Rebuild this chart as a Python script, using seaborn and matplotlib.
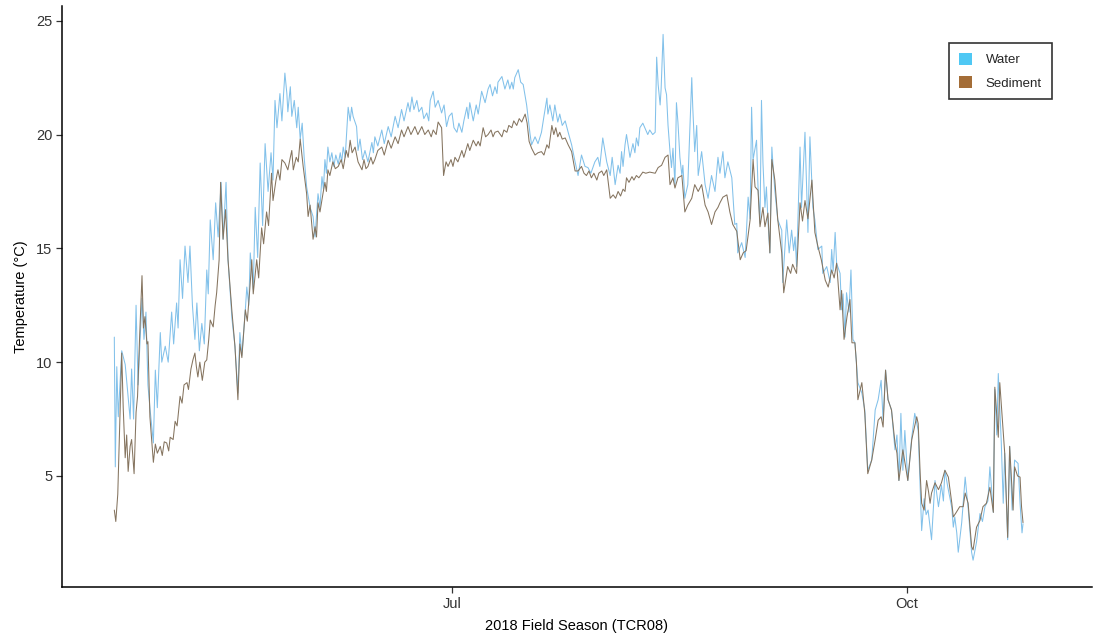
import numpy as np
import pandas as pd
import matplotlib
matplotlib.use("Agg")
import matplotlib.pyplot as plt
from matplotlib.patches import Patch
import seaborn as sns

# ---- data: day-of-year 2018 (decimal) and temperature (°C) ----
water_doy = [113.7, 113.9, 114.2, 114.5, 115.2, 115.9, 116.9, 117.2, 117.6, 118.1, 118.5, 119.3, 119.7, 120.1,
             120.5, 120.9, 121.6, 122.0, 122.4, 123.0, 123.3, 124.0, 124.6, 125.3, 125.7, 126.3, 126.6, 127.0,
             127.5, 128.0, 128.6, 129.0, 129.5, 130.0, 130.4, 130.9, 131.4, 131.9, 132.4, 132.7, 133.1, 133.7,
             134.2, 134.7, 135.3, 135.7, 136.3, 136.7, 137.5, 138.1, 138.7, 139.1, 139.5, 140.2, 140.5, 140.9,
             141.2, 141.8, 142.2, 142.7, 143.2, 143.7, 144.2, 144.8, 145.4, 145.8, 146.2, 146.6, 147.2, 147.6,
             148.2, 148.6, 148.8, 149.3, 149.6, 150.1, 150.6, 150.9, 151.3, 151.7, 152.1, 152.6, 153.3, 153.9,
             154.3, 154.9, 155.3, 155.7, 156.0, 156.3, 156.6, 156.9, 157.3, 157.7, 158.1, 158.5, 159.0, 159.4,
             159.7, 160.0, 160.4, 161.0, 161.4, 161.7, 162.0, 162.7, 163.0, 163.4, 163.9, 164.4, 165.0, 165.8,
             166.1, 166.4, 167.0, 167.8, 168.3, 169.1, 169.7, 170.5, 171.1, 171.8, 172.3, 173.1, 173.5, 173.9,
             174.3, 174.9, 175.3, 175.9, 176.3, 176.9, 177.3, 177.6, 178.2, 178.6, 179.2, 179.9, 180.4, 180.9,
             181.4, 182.0, 182.4, 183.0, 183.4, 184.0, 184.4, 185.0, 185.3, 185.6, 186.3, 186.9, 187.3, 188.0,
             188.7, 189.3, 189.7, 190.2, 190.7, 191.1, 191.3, 192.1, 192.7, 193.3, 193.7, 194.1, 194.4, 194.7,
             195.4, 195.9, 196.4, 197.1, 197.8, 198.1, 198.8, 199.4, 200.1, 200.6, 201.2, 201.4, 201.8, 202.4,
             202.8, 203.4, 203.8, 204.3, 204.9, 205.5, 206.2, 206.9, 207.5, 208.2, 208.9, 209.5, 210.1, 210.9,
             211.5, 211.9, 212.5, 213.3, 214.0, 214.4, 215.0, 215.6, 216.0, 216.3, 216.6, 217.0, 217.3, 218.0,
             218.6, 219.0, 219.3, 219.7, 220.0, 220.6, 221.4, 221.6, 222.0, 222.6, 223.1, 223.4, 223.7, 224.1,
             224.3, 224.7, 225.1, 225.4, 225.7, 226.1, 226.4, 226.7, 227.1, 227.4, 227.7, 228.1, 228.5, 228.7,
             229.1, 229.7, 230.5, 230.7, 231.1, 231.5, 231.8, 232.5, 233.2, 233.8, 234.5, 235.2, 235.8, 236.2,
             236.8, 237.2, 237.8, 238.6, 239.2, 239.6, 239.8, 240.6, 241.3, 241.9, 242.3, 242.6, 242.9, 243.6,
             243.9, 244.3, 244.6, 244.9, 245.3, 245.6, 245.9, 246.3, 246.7, 246.9, 247.3, 247.9, 248.7, 248.9,
             249.7, 250.2, 250.7, 251.1, 251.4, 251.7, 252.4, 252.7, 253.4, 254.0, 254.4, 255.0, 255.4, 256.0,
             256.8, 257.0, 257.8, 258.5, 258.8, 259.1, 259.5, 259.8, 260.5, 260.8, 261.1, 261.5, 261.8, 262.3,
             262.7, 263.1, 263.5, 264.1, 264.9, 265.5, 266.1, 266.9, 267.6, 268.2, 268.8, 269.2, 269.7, 270.2,
             270.9, 271.6, 272.0, 272.4, 272.8, 273.2, 273.6, 274.2, 275.0, 275.6, 276.3, 276.7, 277.0, 277.5,
             277.9, 278.3, 279.0, 279.7, 280.4, 281.0, 281.4, 281.7, 282.3, 283.1, 283.4, 283.7, 284.1, 284.4,
             285.1, 285.8, 286.4, 287.1, 287.4, 288.1, 288.8, 289.3, 289.8, 290.4, 290.8, 291.5, 291.8, 292.2,
             292.5, 293.1, 293.5, 293.8, 294.4, 294.8, 295.3, 295.8, 296.5, 296.9, 297.3, 297.5]
water_temp = [11.1, 5.4, 9.8, 7.6, 10.5, 9.9, 7.5, 9.7, 7.5, 12.5, 9.0, 12.8, 11.0, 12.2,
              9.0, 8.0, 6.45, 9.65, 8.0, 11.3, 10.0, 10.7, 10.0, 12.2, 10.8, 12.6, 11.5, 14.5,
              12.8, 15.1, 13.5, 15.1, 12.5, 11.0, 12.6, 10.5, 11.7, 10.8, 14.05, 13.0, 16.25, 14.5,
              17.0, 15.5, 17.9, 15.4, 17.9, 14.5, 11.9, 10.7, 8.65, 11.3, 10.3, 12.3, 13.3, 12.5,
              14.8, 13.2, 16.8, 14.6, 18.75, 16.0, 19.6, 17.5, 19.2, 18.0, 21.5, 20.3, 21.8, 20.6,
              22.7, 21.8, 21.0, 22.1, 20.8, 21.5, 20.3, 21.2, 19.8, 20.5, 19.0, 17.7, 16.8, 16.4,
              15.5, 17.4, 16.8, 18.15, 17.6, 18.9, 18.3, 19.45, 18.8, 19.2, 18.6, 19.1, 18.7, 19.2,
              18.8, 19.45, 19.0, 21.2, 20.6, 21.2, 20.8, 20.35, 19.3, 19.8, 18.9, 19.3, 18.8, 19.65,
              19.2, 19.9, 19.5, 20.2, 19.6, 20.35, 19.9, 20.8, 20.3, 21.1, 20.6, 21.4, 21.0, 21.65,
              21.1, 21.5, 21.0, 21.2, 20.7, 20.95, 20.6, 21.5, 21.9, 21.2, 21.5, 20.95, 21.3, 20.35,
              20.8, 20.95, 20.3, 20.1, 20.5, 20.1, 20.6, 21.2, 20.7, 21.4, 20.6, 21.3, 20.9, 21.9,
              21.4, 22.0, 22.2, 21.7, 22.1, 21.8, 22.3, 22.55, 22.0, 22.4, 22.0, 22.3, 22.0, 22.5,
              22.85, 22.3, 22.2, 21.3, 20.0, 19.55, 19.9, 19.6, 20.1, 20.8, 21.6, 20.9, 21.3, 20.6,
              21.3, 20.55, 20.9, 20.4, 20.6, 20.1, 19.55, 18.8, 18.2, 19.1, 18.6, 18.55, 18.3, 18.8,
              19.0, 18.6, 19.85, 18.8, 18.2, 19.0, 17.8, 18.65, 18.3, 19.25, 18.6, 19.55, 20.0, 19.0,
              19.6, 19.2, 19.85, 19.5, 20.3, 20.5, 20.1, 20.0, 20.2, 20.0, 20.1, 23.4, 22.2, 21.3,
              22.0, 24.4, 22.05, 21.75, 20.4, 19.25, 18.55, 19.4, 17.8, 21.4, 20.55, 19.0, 18.2, 18.65,
              17.2, 17.8, 22.5, 21.2, 19.25, 20.4, 18.2, 19.25, 17.8, 17.2, 18.2, 17.5, 19.0, 18.3,
              19.25, 18.1, 18.8, 18.1, 16.05, 16.1, 14.8, 15.25, 14.6, 17.25, 16.3, 21.2, 18.9, 19.75,
              17.7, 16.1, 21.5, 18.75, 16.8, 17.7, 16.25, 14.8, 19.45, 18.75, 17.55, 16.25, 15.8, 13.5,
              16.25, 14.8, 15.8, 14.9, 15.5, 14.2, 19.45, 16.8, 20.1, 15.7, 19.9, 16.8, 16.25, 14.95,
              15.1, 13.9, 14.2, 13.5, 14.95, 14.0, 15.7, 14.35, 13.9, 12.3, 13.0, 11.1, 13.05, 12.2,
              14.05, 11.0, 10.85, 9.1, 8.65, 7.9, 5.25, 5.7, 7.9, 8.35, 9.2, 7.45, 9.65, 8.35,
              7.9, 6.15, 6.8, 4.8, 7.75, 5.25, 7.0, 4.8, 6.7, 7.75, 7.0, 4.5, 2.6, 4.0,
              3.3, 3.5, 2.2, 4.8, 3.65, 4.6, 3.9, 5.25, 4.5, 3.6, 2.75, 3.2, 2.5, 1.65,
              2.95, 4.95, 3.6, 1.65, 1.3, 2.1, 3.35, 3.0, 3.65, 3.9, 5.4, 3.4, 8.8, 6.8,
              9.5, 6.5, 3.8, 6.0, 2.2, 6.3, 3.5, 5.7, 5.55, 3.8, 2.5, 2.9]

sediment_doy = [113.7, 114.0, 114.4, 114.7, 115.2, 115.5, 115.9, 116.2, 116.5, 116.9, 117.2, 117.7, 118.1, 118.4,
                118.8, 119.3, 119.6, 119.9, 120.3, 120.5, 120.9, 121.6, 122.0, 122.4, 123.0, 123.4, 123.8, 124.3,
                124.7, 125.0, 125.6, 126.0, 126.4, 127.0, 127.4, 127.8, 128.4, 128.7, 129.2, 129.6, 130.0, 130.3,
                130.6, 131.0, 131.5, 132.0, 132.4, 132.8, 133.1, 133.7, 134.1, 134.4, 134.9, 135.2, 135.7, 136.2,
                136.7, 137.5, 138.1, 138.7, 139.1, 139.5, 140.2, 140.6, 141.2, 141.5, 141.8, 142.5, 142.9, 143.5,
                143.9, 144.5, 144.9, 145.5, 145.8, 146.4, 146.8, 147.2, 147.6, 148.2, 148.8, 149.3, 149.6, 149.9,
                150.5, 150.9, 151.3, 151.9, 152.6, 152.9, 153.3, 153.9, 154.3, 154.6, 154.9, 155.3, 155.9, 156.3,
                156.6, 156.9, 157.3, 157.9, 158.4, 159.0, 159.6, 160.0, 160.6, 161.0, 161.4, 161.8, 162.4, 163.0,
                163.8, 164.2, 164.6, 165.0, 165.6, 166.0, 166.4, 167.0, 167.8, 168.3, 169.1, 169.7, 170.5, 171.1,
                171.8, 172.3, 173.1, 173.7, 174.5, 175.1, 175.9, 176.5, 177.2, 177.8, 178.2, 178.8, 179.2, 179.9,
                180.3, 180.8, 181.2, 181.8, 182.2, 182.6, 183.2, 184.0, 184.4, 185.2, 185.6, 186.3, 186.9, 187.3,
                187.7, 188.3, 188.8, 189.3, 189.9, 190.3, 190.7, 191.3, 192.1, 192.5, 193.1, 193.5, 194.1, 194.5,
                195.1, 195.6, 196.1, 196.8, 197.2, 197.6, 198.1, 198.8, 199.4, 200.1, 200.6, 201.2, 201.6, 202.2,
                202.6, 203.0, 203.4, 203.8, 204.3, 204.9, 205.5, 206.2, 206.9, 207.5, 208.2, 208.7, 209.2, 209.7,
                210.2, 210.7, 211.3, 211.7, 212.3, 212.7, 213.3, 214.0, 214.6, 215.1, 215.6, 216.1, 216.6, 217.0,
                217.3, 217.8, 218.4, 218.8, 219.3, 219.8, 220.6, 221.2, 222.0, 223.1, 223.7, 224.4, 225.1, 225.7,
                226.1, 226.7, 227.1, 227.7, 228.5, 229.1, 229.7, 230.5, 231.1, 231.8, 232.5, 233.2, 233.8, 234.5,
                235.2, 235.8, 236.2, 236.8, 237.6, 238.2, 238.8, 239.6, 240.3, 240.9, 241.5, 242.3, 242.9, 243.3,
                243.9, 244.3, 244.9, 245.3, 245.9, 246.3, 246.7, 247.3, 247.9, 248.7, 249.1, 249.9, 250.5, 250.9,
                251.7, 252.4, 252.9, 253.4, 254.0, 254.8, 255.4, 256.0, 256.7, 257.5, 258.1, 258.8, 259.3, 259.8,
                260.5, 260.8, 261.3, 261.9, 262.5, 262.9, 263.5, 263.8, 264.1, 264.9, 265.5, 266.1, 266.9, 267.6,
                268.2, 268.8, 269.2, 269.7, 270.2, 270.9, 271.6, 272.0, 272.4, 273.2, 273.6, 274.2, 275.0, 276.0,
                276.3, 276.7, 277.0, 277.5, 278.0, 278.4, 278.7, 279.0, 279.7, 280.4, 281.0, 281.7, 282.4, 283.1,
                283.4, 284.0, 284.7, 285.4, 285.8, 286.4, 287.1, 287.4, 288.1, 288.8, 289.4, 290.1, 290.8, 291.5,
                291.8, 292.5, 292.8, 293.8, 294.4, 294.8, 295.5, 295.8, 296.4, 296.9, 297.2, 297.5]
sediment_temp = [3.5, 3.0, 4.2, 6.5, 10.4, 8.0, 5.8, 6.8, 5.2, 6.3, 6.6, 5.1, 7.8, 8.5,
                 11.0, 13.8, 11.5, 12.0, 10.8, 10.9, 7.6, 5.6, 6.4, 6.0, 6.3, 5.9, 6.5, 6.45,
                 6.1, 6.7, 6.6, 7.4, 7.2, 8.5, 8.2, 9.0, 9.1, 8.8, 9.7, 10.1, 10.4, 9.8,
                 9.35, 10.0, 9.2, 10.0, 10.1, 11.0, 11.85, 11.55, 12.5, 13.05, 14.5, 17.9, 15.4, 16.7,
                 14.5, 12.2, 10.7, 8.35, 10.8, 10.2, 12.3, 11.8, 13.5, 14.5, 13.0, 14.5, 13.7, 15.9,
                 15.2, 16.6, 16.0, 18.3, 17.1, 18.0, 18.45, 18.0, 18.9, 18.75, 18.45, 19.0, 19.3, 18.45,
                 19.0, 18.8, 19.8, 18.6, 17.4, 16.4, 16.9, 15.4, 15.95, 15.5, 17.0, 16.6, 17.4, 17.9,
                 17.5, 18.45, 18.2, 18.8, 18.5, 18.6, 18.9, 18.5, 19.3, 19.0, 19.75, 19.2, 19.45, 18.8,
                 18.45, 18.9, 18.5, 18.6, 19.0, 18.7, 18.9, 19.3, 19.45, 19.1, 19.75, 19.4, 19.9, 19.6,
                 20.2, 19.9, 20.35, 20.0, 20.35, 20.0, 20.35, 20.0, 20.2, 19.9, 20.2, 20.0, 20.55, 20.3,
                 18.2, 18.8, 18.6, 18.9, 18.6, 19.0, 18.8, 19.3, 19.0, 19.6, 19.3, 19.75, 19.5, 19.7,
                 19.5, 20.3, 19.9, 20.0, 20.2, 19.9, 20.1, 20.15, 19.9, 20.2, 20.1, 20.4, 20.3, 20.6,
                 20.4, 20.7, 20.55, 20.9, 20.5, 19.7, 19.4, 19.1, 19.2, 19.25, 19.1, 19.55, 19.4, 20.4,
                 20.0, 20.3, 19.9, 20.1, 19.8, 19.85, 19.55, 19.25, 18.4, 18.4, 18.6, 18.3, 18.2, 18.4,
                 18.1, 18.3, 18.0, 18.3, 18.4, 18.2, 18.45, 17.2, 17.35, 17.2, 17.5, 17.3, 17.6, 17.5,
                 18.1, 17.9, 18.15, 18.0, 18.2, 18.1, 18.35, 18.3, 18.35, 18.3, 18.55, 18.65, 19.0, 19.1,
                 17.8, 18.1, 17.65, 18.1, 18.2, 16.6, 16.9, 17.2, 17.8, 17.5, 17.8, 16.9, 16.6, 16.05,
                 16.6, 16.8, 17.0, 17.25, 17.35, 16.6, 16.05, 15.75, 14.5, 14.8, 14.9, 16.25, 18.9, 17.7,
                 17.55, 15.95, 16.8, 15.95, 16.55, 14.8, 18.9, 18.0, 16.25, 14.8, 13.05, 14.2, 13.9, 14.3,
                 13.9, 17.0, 16.2, 17.1, 16.3, 18.0, 15.7, 15.1, 14.5, 13.6, 13.3, 14.05, 13.7, 14.35,
                 12.3, 13.15, 11.0, 12.0, 12.75, 10.85, 10.85, 10.0, 8.35, 9.1, 7.75, 5.1, 5.7, 6.6,
                 7.45, 7.6, 7.15, 9.65, 8.35, 7.9, 6.45, 6.0, 4.8, 6.15, 5.6, 4.8, 6.6, 7.6,
                 7.3, 5.1, 3.8, 3.5, 4.8, 4.3, 3.8, 4.25, 4.7, 4.4, 4.7, 5.25, 4.95, 3.8,
                 3.2, 3.4, 3.65, 3.65, 4.25, 3.8, 1.9, 1.75, 2.75, 3.05, 3.65, 3.8, 4.5, 3.4,
                 8.9, 6.7, 9.1, 6.0, 2.3, 6.3, 3.5, 5.4, 5.0, 4.95, 3.65, 2.95]

series_names = ["Water", "Sediment"]
x_tick_labels = ["Jul", "Oct"]
y_ticks = [5, 10, 15, 20, 25]


def to_dates(doy):
    return pd.Timestamp("2018-01-01") + pd.to_timedelta(np.array(doy) - 1, unit="D")


df = pd.concat([
    pd.DataFrame({"date": to_dates(water_doy), "temp": water_temp, "series": series_names[0]}),
    pd.DataFrame({"date": to_dates(sediment_doy), "temp": sediment_temp, "series": series_names[1]}),
], ignore_index=True)

sns.set_style("ticks")
plt.rcParams["font.family"] = ["Liberation Sans", "DejaVu Sans"]

fig = plt.figure(figsize=(10.94, 6.36), dpi=100)
ax = fig.add_axes([0.0567, 0.077, 0.9413, 0.914])

line_colors = {"Water": "#82c1ea", "Sediment": "#85745f"}
sns.lineplot(data=df, x="date", y="temp", hue="series", palette=line_colors,
             sort=False, estimator=None, linewidth=0.75, legend=False, ax=ax)

ax.set_xlim(pd.Timestamp("2018-04-13 03:00"), pd.Timestamp("2018-11-07 10:00"))
ax.set_ylim(0.12, 25.66)
ax.set_yticks(y_ticks)
ax.set_yticklabels([str(v) for v in y_ticks])
ax.set_xticks([pd.Timestamp("2018-07-01"), pd.Timestamp("2018-10-01")])
ax.set_xticklabels(x_tick_labels)

for s in ["top", "right"]:
    ax.spines[s].set_visible(False)
for s in ["left", "bottom"]:
    ax.spines[s].set_color("black")
    ax.spines[s].set_linewidth(1.1)
ax.tick_params(axis="both", length=4, width=0.9, color="#333333", labelsize=10.5,
               labelcolor="#333333", pad=3)

ax.set_xlabel("2018 Field Season (TCR08)", fontsize=10.5, color="black", labelpad=6)
ax.set_ylabel("Temperature (°C)", fontsize=10.5, color="black", labelpad=6)

handles = [Patch(facecolor="#4fc8f4", edgecolor="none", label="Water"),
           Patch(facecolor="#a46d37", edgecolor="none", label="Sediment")]
leg = ax.legend(handles=handles, loc="upper right", bbox_to_anchor=(0.961, 0.936),
                frameon=True, fancybox=False, fontsize=9.5, handlelength=1.0, handleheight=1.0,
                handletextpad=1.0, borderpad=0.75, labelspacing=0.75, borderaxespad=0)
leg.get_frame().set_edgecolor("black")
leg.get_frame().set_linewidth(1.2)

fig.savefig("out.png", dpi=100, facecolor="white")
